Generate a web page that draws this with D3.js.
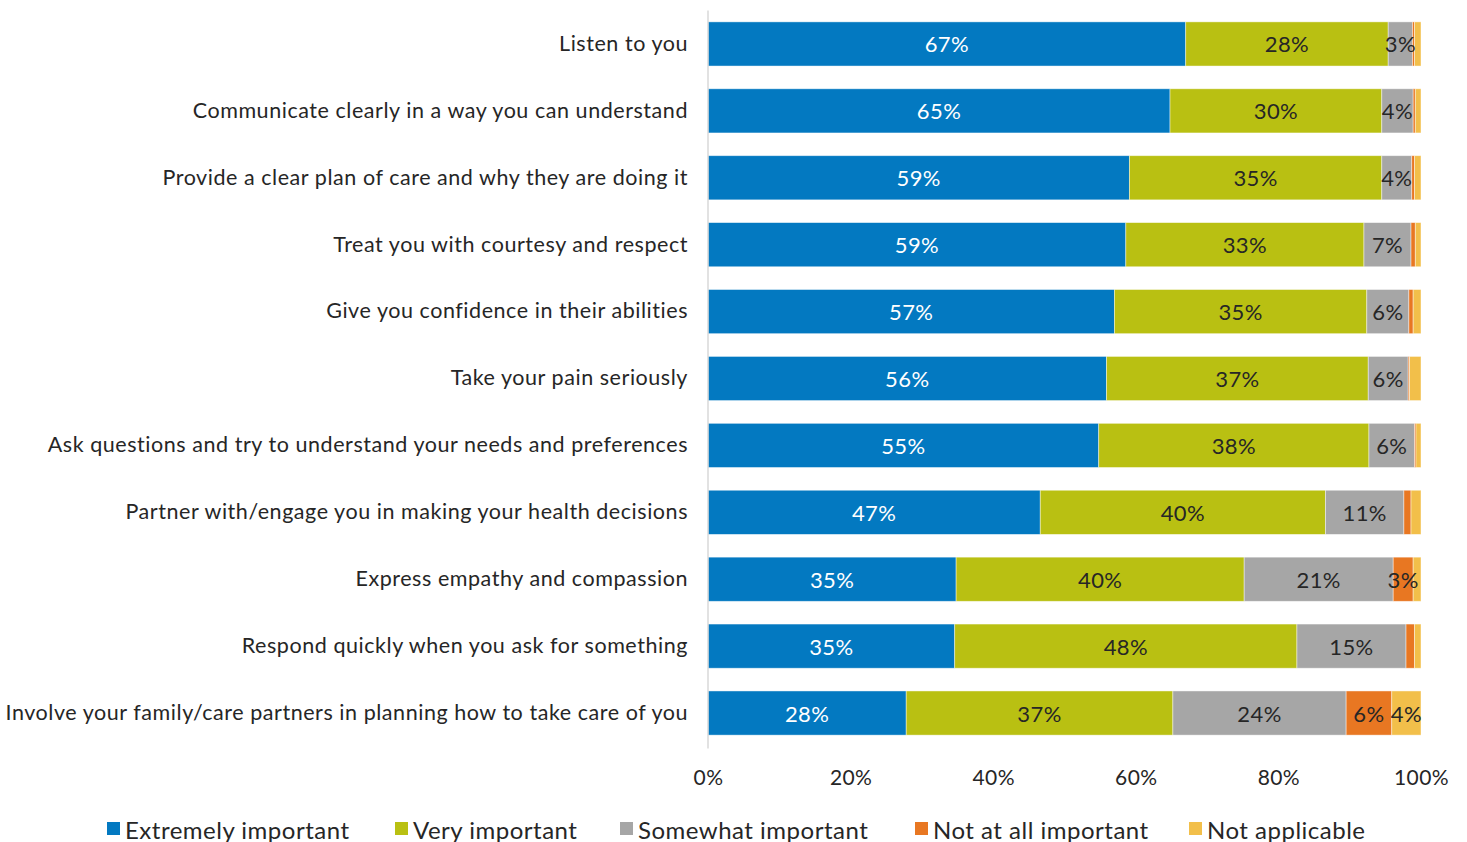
<!DOCTYPE html>
<html>
<head>
<meta charset="utf-8">
<script src="https://cdn.jsdelivr.net/npm/d3@7"></script>
<style>
  html, body { margin: 0; padding: 0; background: #fff; }
  svg { display: block; font-family: Lato, "Open Sans", sans-serif; }
</style>
</head>
<body>
<svg id="chart" width="1467" height="842"></svg>
<script>
// Survey attributes, top to bottom
const categories = [
  "Listen to you",
  "Communicate clearly in a way you can understand",
  "Provide a clear plan of care and why they are doing it",
  "Treat you with courtesy and respect",
  "Give you confidence in their abilities",
  "Take your pain seriously",
  "Ask questions and try to understand your needs and preferences",
  "Partner with/engage you in making your health decisions",
  "Express empathy and compassion",
  "Respond quickly when you ask for something",
  "Involve your family/care partners in planning how to take care of you"
];

const seriesNames = ["Extremely important", "Very important", "Somewhat important", "Not at all important", "Not applicable"];

// Share of respondents (%) per category, one array per response
const extremely   = [67.0, 64.8, 59.1, 58.6, 57.0, 55.9, 54.8, 46.6, 34.8, 34.6, 27.8];
const very        = [28.4, 29.7, 35.4, 33.4, 35.4, 36.7, 37.9, 40.0, 40.4, 48.0, 37.4];
const somewhat    = [3.4, 4.4, 4.2, 6.6, 5.9, 5.6, 6.4, 11.0, 20.9, 15.3, 24.3];
const notAtAll    = [0.3, 0.3, 0.4, 0.6, 0.6, 0.2, 0.2, 1.0, 2.8, 1.2, 6.4];
const notApplic   = [0.9, 0.8, 0.9, 0.8, 1.1, 1.6, 0.7, 1.4, 1.1, 0.9, 4.1];

const tickValues = [0, 20, 40, 60, 80, 100];

const colors = ["#0379c1", "#b9c012", "#a6a6a6", "#e87722", "#f2bf4a"];
const labelColors = ["#ffffff", "#262626", "#262626", "#262626", "#262626"];

const seriesValues = [extremely, very, somewhat, notAtAll, notApplic];
const table = categories.map((c, i) => {
  const row = { category: c };
  seriesNames.forEach((s, k) => { row[s] = seriesValues[k][i]; });
  return row;
});

const svg = d3.select("#chart");
const margin = { left: 708, right: 46, top: 10.5, bottom: 95.5 };
const W = 1467, H = 842;

const x = d3.scaleLinear().domain([0, 100]).range([margin.left, W - margin.right]);
const y = d3.scaleBand().domain(categories).range([margin.top, H - margin.bottom]).paddingInner(0.34).paddingOuter(0.17);

const stack = d3.stack().keys(seriesNames);
const layers = stack(table);

const g = svg.append("g");

const layerG = g.selectAll("g.layer").data(layers).join("g")
  .attr("class", "layer")
  .attr("fill", (d, i) => colors[i]);

layerG.selectAll("rect").data(d => d).join("rect")
  .attr("x", d => x(d[0]))
  .attr("y", d => y(d.data.category))
  .attr("width", d => x(d[1]) - x(d[0]))
  .attr("height", y.bandwidth())
  .attr("stroke", "#ffffff")
  .attr("stroke-opacity", 0.55)
  .attr("stroke-width", 0.8);

// Value labels for segments wide enough to carry them
layers.forEach((layer, i) => {
  g.append("g").selectAll("text").data(layer.filter(d => (d[1] - d[0]) >= 2.5)).join("text")
    .attr("x", d => (x(d[0]) + x(d[1])) / 2)
    .attr("y", d => y(d.data.category) + y.bandwidth() / 2)
    .attr("text-anchor", "middle")
    .attr("dominant-baseline", "central")
    .attr("font-size", 22)
    .attr("letter-spacing", 0.4)
    .attr("fill", labelColors[i])
    .text(d => Math.round(d[1] - d[0]) + "%");
});

// Category axis
const yAxis = d3.axisLeft(y).tickSize(0).tickPadding(20);
const yg = svg.append("g").attr("transform", `translate(${margin.left},0)`).call(yAxis);
yg.select(".domain").attr("stroke", "#d9d9d9").attr("stroke-width", 1.5)
  .attr("d", `M0,${margin.top}V${H - margin.bottom + 2}`);
yg.selectAll("text").attr("font-size", 21.5).attr("fill", "#262626")
  .attr("letter-spacing", 0.55)
  .attr("font-family", "Lato, 'Open Sans', sans-serif");

// Percentage axis
const xAxis = d3.axisBottom(x).tickValues(tickValues).tickFormat(d => d + "%").tickSize(0).tickPadding(22);
const xg = svg.append("g").attr("transform", `translate(0,${H - margin.bottom + 2})`).call(xAxis);
xg.select(".domain").remove();
xg.selectAll("text").attr("font-size", 21).attr("fill", "#262626")
  .attr("letter-spacing", 0.4)
  .attr("font-family", "Lato, 'Open Sans', sans-serif");

// Legend
const legendX = [107, 395, 620, 915, 1189];
const legend = svg.append("g").selectAll("g").data(seriesNames).join("g")
  .attr("transform", (d, i) => `translate(${legendX[i]},829)`);
legend.append("rect").attr("x", 0).attr("y", -7).attr("width", 13).attr("height", 13)
  .attr("fill", (d, i) => colors[i]);
legend.append("text").attr("x", 18).attr("y", 0)
  .attr("dominant-baseline", "central")
  .attr("font-size", 24).attr("fill", "#262626")
  .attr("letter-spacing", 0.5)
  .text(d => d);
</script>
</body>
</html>
